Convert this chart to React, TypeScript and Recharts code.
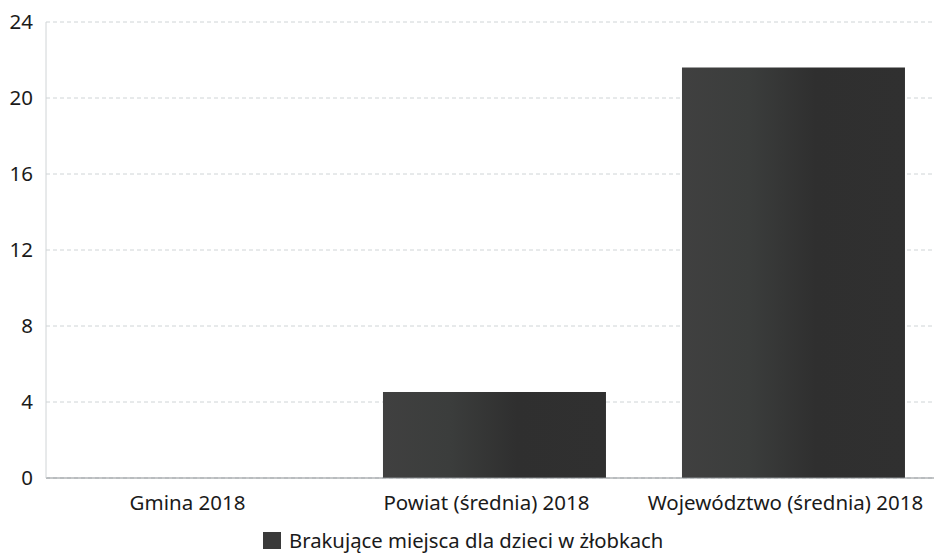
import React from 'react';
import { BarChart, Bar, XAxis, YAxis, CartesianGrid, Legend } from 'recharts';

const categories = ['Gmina 2018', 'Powiat (średnia) 2018', 'Województwo (średnia) 2018'];
const values = [0, 4.53, 21.6];
const yTicks = [0, 4, 8, 12, 16, 20, 24];
const seriesName = 'Brakujące miejsca dla dzieci w żłobkach';

const data = categories.map((c, i) => ({ name: c, value: values[i] }));

const FONT = '"Noto Sans", "Open Sans", sans-serif';

const LegendContent = () => (
  <div style={{ display: 'flex', justifyContent: 'flex-start', alignItems: 'center', height: 38, paddingLeft: 263, paddingTop: 6, boxSizing: 'border-box', fontFamily: FONT, fontSize: 20.3, color: '#1a1a1a' }}>
    <span style={{ display: 'inline-block', width: 18, height: 17, background: '#3a3a3a', marginRight: 8 }} />
    <span>{seriesName}</span>
  </div>
);

export default function App() {
  return (
    <div style={{ position: 'absolute', left: 0, top: 0, width: 934, height: 556, overflow: 'hidden', background: '#fff' }}>
      <BarChart width={943} height={556} data={data} margin={{ top: 22, right: 0, left: 0, bottom: 0 }} barCategoryGap="12.7%">
        <defs>
          <linearGradient id="barGrad" x1="0" y1="0" x2="1" y2="0">
            <stop offset="0%" stopColor="#404040" />
            <stop offset="30%" stopColor="#3b3d3c" />
            <stop offset="60%" stopColor="#2f2f2f" />
            <stop offset="100%" stopColor="#303030" />
          </linearGradient>
        </defs>
        <CartesianGrid vertical={false} stroke="#cfd4d6" strokeDasharray="4 3" />
        <XAxis
          dataKey="name"
          tickLine={false}
          tickSize={0}
          tickMargin={17}
          height={40}
          stroke="#8a8f92"
          tick={{ fill: '#1a1a1a', fontSize: 20.5, fontFamily: FONT, dx: -8 }}
          interval={0}
        />
        <YAxis
          domain={[0, 24]}
          ticks={yTicks}
          width={46}
          tickLine={false}
          tickSize={0}
          tickMargin={13}
          stroke="#d0d4d6"
          tick={{ fill: '#1a1a1a', fontSize: 20.5, fontFamily: FONT }}
        />
        <Legend verticalAlign="bottom" height={38} content={<LegendContent />} />
        <Bar dataKey="value" name={seriesName} fill="url(#barGrad)" isAnimationActive={false} />
      </BarChart>
    </div>
  );
}
